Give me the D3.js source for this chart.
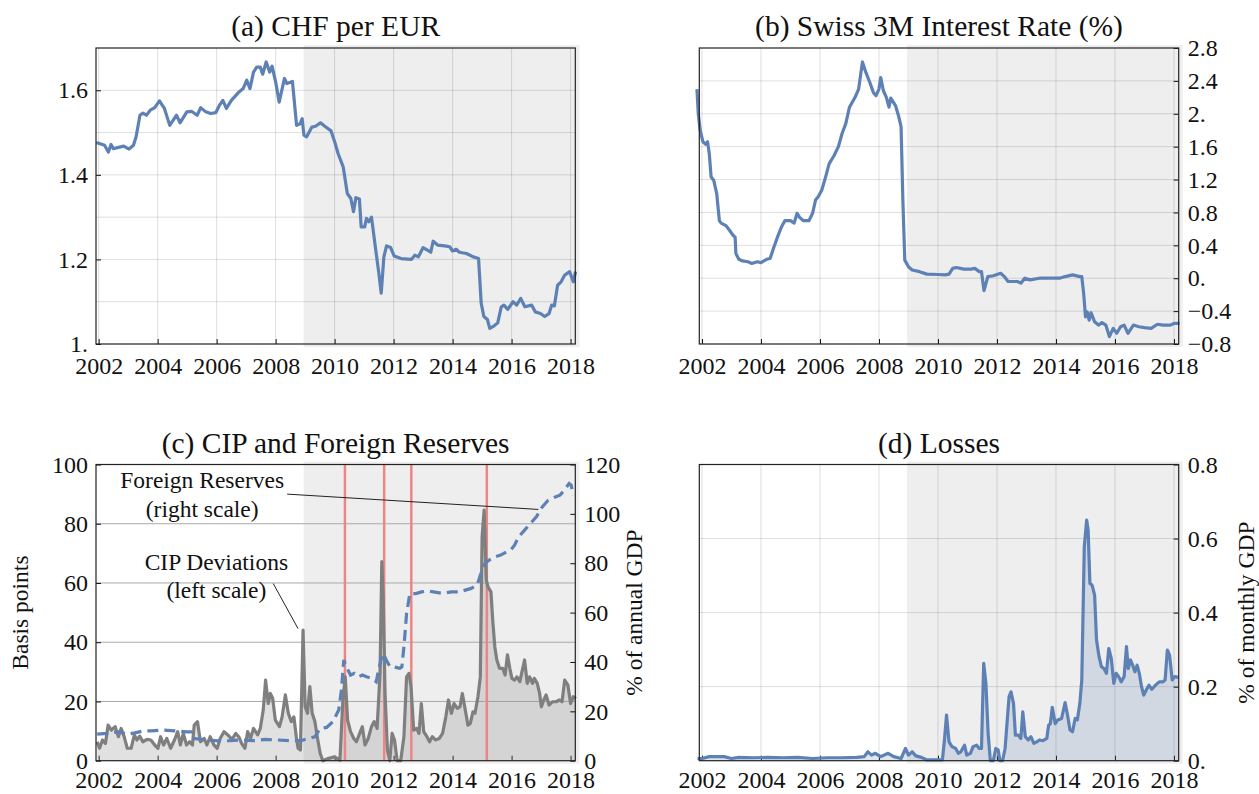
<!doctype html>
<html lang="en">
<head>
<meta charset="UTF-8">
<title>Swiss franc, rates, CIP and SNB losses</title>
<style>
    body { margin: 0; background: #fff; }
    svg { display: block; }
    text { font-family: "Liberation Serif", "DejaVu Serif", serif; }
    .ticks text { fill: #111; }
    .ticks line { stroke: #111; }
    .title { font-size: 29.5px; fill: #111; text-anchor: middle; }
    .note { font-size: 23.5px; fill: #111; text-anchor: middle; }
    .axis-title { font-size: 23.5px; fill: #111; text-anchor: middle; }
    .frame { fill: none; stroke: #222; stroke-width: 1.2; }
</style>
</head>
<body>
<svg id="chart" width="1259" height="794" font-family="Liberation Serif, DejaVu Serif, serif"></svg>

<script src="https://d3js.org/d3.v7.min.js"></script>
<script>
    // ---- data (decimal year, value) ----
    var yearTicks = [2002, 2004, 2006, 2008, 2010, 2012, 2014, 2016, 2018];
    var shadeStart = 2008.95;
    var interventions = [2010.35, 2011.68, 2012.6, 2015.16];

    var chfEur = [[2001.92,1.476],[2002.0,1.475],[2002.2,1.47],[2002.33,1.454],[2002.42,1.472],[2002.5,1.462],[2002.85,1.468],
        [2003.03,1.461],[2003.18,1.47],[2003.27,1.49],[2003.4,1.541],[2003.5,1.546],[2003.62,1.541],[2003.75,1.553],[2003.9,1.559],
        [2004.06,1.575],[2004.23,1.557],[2004.41,1.517],[2004.64,1.541],[2004.76,1.523],[2004.99,1.549],[2005.16,1.55],[2005.34,1.541],
        [2005.46,1.559],[2005.63,1.549],[2005.8,1.545],[2005.97,1.547],[2006.1,1.565],[2006.21,1.576],[2006.33,1.557],[2006.5,1.576],
        [2006.73,1.594],[2006.9,1.604],[2007.02,1.624],[2007.13,1.604],[2007.25,1.643],[2007.36,1.655],[2007.48,1.655],[2007.56,1.638],
        [2007.68,1.667],[2007.8,1.643],[2007.88,1.657],[2008.0,1.62],[2008.12,1.572],[2008.3,1.628],[2008.38,1.616],[2008.57,1.621],
        [2008.71,1.517],[2008.83,1.521],[2008.9,1.533],[2008.96,1.494],[2009.05,1.49],[2009.23,1.513],[2009.35,1.515],[2009.52,1.523],
        [2009.7,1.513],[2009.88,1.504],[2010.02,1.474],[2010.12,1.45],[2010.29,1.419],[2010.43,1.356],[2010.55,1.344],[2010.64,1.313],
        [2010.72,1.346],[2010.84,1.343],[2010.9,1.277],[2011.02,1.277],[2011.08,1.297],[2011.16,1.289],[2011.25,1.3],[2011.38,1.23],
        [2011.5,1.167],[2011.58,1.12],[2011.67,1.206],[2011.76,1.232],[2011.9,1.228],[2012.02,1.208],[2012.25,1.202],[2012.6,1.2],
        [2012.72,1.21],[2012.84,1.206],[2013.0,1.228],[2013.26,1.217],[2013.34,1.243],[2013.49,1.234],[2013.73,1.232],[2013.9,1.23],
        [2014.0,1.22],[2014.12,1.224],[2014.23,1.217],[2014.47,1.214],[2014.7,1.206],[2014.88,1.202],[2014.97,1.096],[2015.06,1.065],
        [2015.18,1.058],[2015.26,1.037],[2015.41,1.043],[2015.53,1.05],[2015.65,1.088],[2015.74,1.092],[2015.87,1.082],[2016.05,1.1],
        [2016.17,1.092],[2016.31,1.108],[2016.45,1.088],[2016.68,1.092],[2016.8,1.076],[2016.98,1.072],[2017.12,1.065],[2017.27,1.072],
        [2017.36,1.092],[2017.45,1.09],[2017.56,1.139],[2017.68,1.147],[2017.8,1.163],[2017.97,1.171],[2018.09,1.147],[2018.17,1.171]];

    var swiss3m = [[2001.83,2.3],[2001.875,2.0],[2001.94,1.8],[2002.03,1.66],[2002.125,1.63],[2002.19,1.66],[2002.25,1.51],[2002.31,1.23],
        [2002.4,1.19],[2002.5,1.03],[2002.59,0.7],[2002.65,0.67],[2002.81,0.64],[2002.94,0.58],[2003.06,0.52],[2003.125,0.5],[2003.15,0.3],
        [2003.25,0.23],[2003.375,0.21],[2003.56,0.2],[2003.69,0.18],[2003.875,0.2],[2004.0,0.19],[2004.19,0.23],[2004.31,0.24],[2004.44,0.38],
        [2004.56,0.5],[2004.69,0.62],[2004.81,0.7],[2005.0,0.7],[2005.125,0.67],[2005.225,0.79],[2005.31,0.74],[2005.44,0.7],[2005.625,0.7],
        [2005.75,0.79],[2005.85,0.95],[2005.94,0.99],[2006.06,1.07],[2006.19,1.23],[2006.31,1.39],[2006.475,1.49],[2006.625,1.6],[2006.75,1.76],
        [2006.875,1.88],[2007.0,2.08],[2007.19,2.2],[2007.31,2.3],[2007.44,2.63],[2007.56,2.5],[2007.69,2.38],[2007.81,2.26],[2007.9,2.22],
        [2008.0,2.3],[2008.06,2.44],[2008.15,2.28],[2008.25,2.2],[2008.34,2.08],[2008.4,2.19],[2008.56,2.1],[2008.66,1.98],[2008.75,1.84],
        [2008.81,0.95],[2008.875,0.22],[2009.0,0.14],[2009.125,0.1],[2009.375,0.08],[2009.625,0.05],[2010.0,0.045],[2010.25,0.04],
        [2010.375,0.05],[2010.5,0.12],[2010.625,0.13],[2010.875,0.11],[2011.125,0.11],[2011.25,0.12],[2011.4,0.08],[2011.475,0.08],
        [2011.56,-0.15],[2011.69,0.02],[2011.875,0.03],[2012.125,0.06],[2012.25,0.02],[2012.375,-0.04],[2012.56,-0.04],[2012.69,-0.04],
        [2012.81,-0.06],[2012.94,0.0],[2013.125,-0.02],[2013.44,0.0],[2013.75,0.0],[2014.125,0.0],[2014.31,0.02],[2014.56,0.04],
        [2014.81,0.02],[2014.875,0.02],[2014.94,-0.19],[2015.0,-0.47],[2015.06,-0.41],[2015.125,-0.51],[2015.19,-0.42],[2015.31,-0.53],
        [2015.44,-0.57],[2015.56,-0.54],[2015.69,-0.57],[2015.81,-0.71],[2015.94,-0.61],[2016.06,-0.67],[2016.19,-0.59],[2016.31,-0.57],
        [2016.44,-0.67],[2016.625,-0.57],[2016.81,-0.59],[2017.0,-0.6],[2017.225,-0.61],[2017.44,-0.56],[2017.625,-0.57],[2017.875,-0.57],
        [2018.0,-0.55],[2018.19,-0.55]];

    var cipDeviation = [[2001.95,6.4],[2002.03,4.2],[2002.13,7],[2002.23,5.8],[2002.32,12],[2002.43,10.3],[2002.56,11.5],[2002.67,8.1],
        [2002.76,10.9],[2002.86,8.3],[2002.97,4.2],[2003.1,4.2],[2003.21,8.7],[2003.3,7],[2003.39,8.3],[2003.5,6.4],[2003.64,7.2],
        [2003.77,7],[2003.9,5.3],[2004.01,4.2],[2004.1,8.1],[2004.2,5.3],[2004.31,7.5],[2004.44,4.2],[2004.57,7],[2004.68,9.8],
        [2004.77,5.3],[2004.87,9.2],[2004.98,5.3],[2005.08,6.4],[2005.18,5.3],[2005.24,12],[2005.35,13.2],[2005.45,6.4],[2005.58,7.5],
        [2005.67,5.3],[2005.78,8.1],[2005.91,5.3],[2006.02,4.2],[2006.12,7.5],[2006.25,9.8],[2006.38,8.7],[2006.52,7.2],[2006.65,9.2],
        [2006.75,8.1],[2006.85,5.8],[2006.96,4.2],[2007.05,9.8],[2007.15,7.5],[2007.25,10.9],[2007.39,8.7],[2007.48,10.9],[2007.58,17.1],
        [2007.66,27.2],[2007.75,19.3],[2007.82,22.7],[2007.9,21],[2007.99,13.7],[2008.13,11.5],[2008.22,14.8],[2008.33,22.2],[2008.43,16],
        [2008.53,13.2],[2008.62,14.8],[2008.7,8.1],[2008.76,4.2],[2008.84,3.6],[2008.93,44.1],[2009.0,18.2],[2009.08,16],[2009.16,25],
        [2009.24,16],[2009.33,13.2],[2009.43,7],[2009.51,2.5],[2009.6,0],[2009.8,0.8],[2010.0,1.3],[2010.18,0.2],[2010.28,20.5],
        [2010.36,28.3],[2010.44,13.7],[2010.54,9.8],[2010.65,7.5],[2010.74,6.4],[2010.85,9.2],[2010.94,11.5],[2011.03,5.3],[2011.14,7.5],
        [2011.25,11.5],[2011.34,13.2],[2011.44,10.9],[2011.54,29.5],[2011.6,67.2],[2011.65,54.2],[2011.71,22.7],[2011.79,3.6],[2011.87,0],
        [2011.95,9.2],[2012.03,7],[2012.12,0],[2012.24,0],[2012.35,8.1],[2012.44,28.3],[2012.52,29.5],[2012.59,25],[2012.68,10.3],
        [2012.78,10.9],[2012.86,9.2],[2012.94,19.3],[2013.02,9.8],[2013.13,8.1],[2013.22,6.4],[2013.31,8.1],[2013.42,7],[2013.55,7.5],
        [2013.66,9.2],[2013.77,14.8],[2013.86,20.5],[2013.96,16],[2014.05,19.3],[2014.16,17.7],[2014.25,18.2],[2014.33,22.7],[2014.43,17.1],
        [2014.52,12],[2014.6,12.6],[2014.69,16.5],[2014.76,16],[2014.86,21.6],[2014.94,28.3],[2015.0,75.6],[2015.07,84.6],[2015.14,61],
        [2015.2,58.7],[2015.3,57],[2015.36,47.5],[2015.43,38.5],[2015.5,34],[2015.59,31.2],[2015.7,31.2],[2015.78,28.9],[2015.86,35.7],
        [2015.94,31.2],[2016.01,27.8],[2016.1,27.2],[2016.18,28.3],[2016.28,26.7],[2016.34,29.5],[2016.44,34],[2016.53,26.1],[2016.61,28.3],
        [2016.71,26.1],[2016.77,27.8],[2016.87,26.1],[2016.95,22.7],[2017.01,18.2],[2017.09,20.5],[2017.17,22.2],[2017.27,18.8],
        [2017.38,19.9],[2017.51,19.9],[2017.62,20.5],[2017.71,19.9],[2017.8,27.2],[2017.91,25.5],[2018.0,19.3],[2018.09,21.6],[2018.18,21]];

    var reserves = [[2001.95,10.8],[2002.29,11.1],[2002.7,11.7],[2002.97,10.7],[2003.23,11.3],[2003.5,12],[2003.77,12.1],[2004.17,12.4],
        [2004.57,12.1],[2004.98,11.7],[2005.18,11.7],[2005.24,9],[2005.65,8.4],[2006.05,8],[2006.45,8.1],[2006.85,8.4],[2007.25,8.1],
        [2007.66,8.6],[2008.06,8.4],[2008.46,8.1],[2008.86,8.1],[2009.06,8.8],[2009.33,9.7],[2009.51,13.1],[2009.73,13.5],[2009.94,15.8],
        [2010.14,20.5],[2010.23,28.6],[2010.31,40.8],[2010.4,38],[2010.54,34.7],[2010.67,35.4],[2010.81,34],[2010.94,34.7],[2011.08,34],
        [2011.28,33.3],[2011.41,32],[2011.48,36],[2011.57,40.8],[2011.65,43.5],[2011.75,40.8],[2011.88,38],[2012.01,38],[2012.21,37.4],
        [2012.28,38],[2012.35,46.2],[2012.44,59.6],[2012.55,67.7],[2012.75,67.7],[2012.95,68.4],[2013.15,68.8],[2013.35,68.4],[2013.55,68],
        [2013.76,68],[2013.96,68.4],[2014.23,68.4],[2014.43,69.1],[2014.63,69.8],[2014.83,71.1],[2014.96,75.8],[2015.1,79.9],[2015.23,81.2],
        [2015.43,82.6],[2015.63,83.3],[2015.83,84.6],[2015.97,85.3],[2016.1,87.3],[2016.24,90.7],[2016.44,93.4],[2016.64,96.1],
        [2016.84,98.8],[2017.04,102.8],[2017.24,105.5],[2017.44,106.6],[2017.64,107.6],[2017.77,109.3],[2017.95,112.3],[2018.02,111.6],
        [2018.09,107.6]];

    var losses = [[2001.85,0.006],[2002.0,0.006],[2002.25,0.011],[2002.5,0.011],[2002.75,0.011],[2003.0,0.006],[2003.25,0.009],
        [2003.75,0.008],[2004.25,0.009],[2004.75,0.008],[2005.25,0.009],[2005.75,0.006],[2006.25,0.008],[2006.75,0.008],[2007.25,0.009],
        [2007.5,0.011],[2007.625,0.024],[2007.75,0.015],[2007.875,0.02],[2008.06,0.011],[2008.31,0.02],[2008.5,0.011],[2008.75,0.006],
        [2008.9,0.033],[2009.0,0.015],[2009.125,0.024],[2009.25,0.013],[2009.44,0.009],[2009.625,0.002],[2009.875,0.002],[2010.15,0.002],
        [2010.22,0.056],[2010.29,0.123],[2010.375,0.051],[2010.475,0.038],[2010.6,0.033],[2010.69,0.02],[2010.775,0.024],[2010.9,0.042],
        [2010.975,0.015],[2011.1,0.02],[2011.19,0.038],[2011.31,0.042],[2011.4,0.033],[2011.475,0.033],[2011.55,0.263],[2011.625,0.209],
        [2011.7,0.074],[2011.775,0],[2011.875,0],[2011.96,0.033],[2012.04,0.029],[2012.1,0],[2012.19,0],[2012.275,0.033],[2012.35,0.11],
        [2012.41,0.173],[2012.475,0.186],[2012.56,0.155],[2012.625,0.069],[2012.725,0.069],[2012.81,0.06],[2012.875,0.132],[2012.96,0.065],
        [2013.06,0.056],[2013.15,0.065],[2013.25,0.047],[2013.35,0.051],[2013.44,0.056],[2013.56,0.054],[2013.69,0.06],[2013.75,0.096],
        [2013.81,0.1],[2013.875,0.144],[2013.975,0.1],[2014.06,0.11],[2014.19,0.114],[2014.31,0.157],[2014.4,0.119],[2014.475,0.083],
        [2014.56,0.078],[2014.65,0.114],[2014.725,0.11],[2014.81,0.155],[2014.875,0.218],[2014.96,0.578],[2015.04,0.65],[2015.09,0.623],
        [2015.15,0.479],[2015.225,0.474],[2015.31,0.447],[2015.375,0.326],[2015.46,0.281],[2015.54,0.254],[2015.625,0.249],[2015.71,0.236],
        [2015.79,0.303],[2015.875,0.276],[2015.96,0.209],[2016.04,0.236],[2016.125,0.227],[2016.21,0.213],[2016.31,0.227],[2016.39,0.308],
        [2016.45,0.249],[2016.525,0.272],[2016.6,0.258],[2016.675,0.24],[2016.75,0.258],[2016.825,0.236],[2016.9,0.2],[2016.975,0.177],
        [2017.06,0.191],[2017.15,0.204],[2017.25,0.193],[2017.375,0.204],[2017.5,0.213],[2017.625,0.213],[2017.7,0.218],[2017.775,0.299],
        [2017.85,0.285],[2017.94,0.218],[2018.025,0.227],[2018.15,0.225]];

    // ---- layout ----
    var xDomain = [2001.91, 2018.16];
    var boxes = {
        a: {left: 96, right: 575.3, top: 48, bottom: 344},
        b: {left: 699.3, right: 1178.7, top: 48, bottom: 344},
        c: {left: 96, right: 575.3, top: 464.5, bottom: 760.7},
        d: {left: 699.3, right: 1178.7, top: 464.5, bottom: 760.7}
    };
    var blue = "#5e81b5";
    var serif = "Liberation Serif, DejaVu Serif, serif";
    var tickFont = 24;
    var svg = d3.select("#chart");

    // Mathematica-like labels: "1." "0." "−0.4"
    function mmaFmt(v) {
        return d3.format(".1f")(v).replace(/\.0$/, ".");
    }

    function styleAxis(sel) {
        sel.attr("class", "ticks").attr("font-family", serif).attr("font-size", tickFont);
        sel.select(".domain").remove();
    }

    function makePanel(box, title, labelPad) {
        var g = svg.append("g");
        var x = d3.scaleLinear().domain(xDomain).range([box.left, box.right]);

        // shaded post-2009 region (sticks out of the frame a bit, like the original)
        g.append("rect")
            .attr("x", x(shadeStart))
            .attr("y", box.top - 3)
            .attr("width", box.right + 4 - x(shadeStart))
            .attr("height", box.bottom - box.top + 6)
            .attr("fill", "#eeeeee");

        g.append("text").attr("class", "title")
            .attr("font-family", serif)
            .attr("x", (box.left + box.right) / 2)
            .attr("y", box.top - 12)
            .text(title);

        g.append("g")
            .attr("transform", "translate(0," + box.bottom + ")")
            .call(d3.axisBottom(x).tickValues(yearTicks).tickFormat(d3.format("d")).tickSize(-5).tickPadding(labelPad))
            .call(styleAxis);

        return {g: g, x: x};
    }

    function vGrid(p, box, color) {
        p.g.append("g").selectAll("line").data(yearTicks).enter().append("line")
            .attr("x1", function(d) { return p.x(d); })
            .attr("x2", function(d) { return p.x(d); })
            .attr("y1", box.top).attr("y2", box.bottom)
            .attr("stroke", color);
    }

    function hGrid(p, box, y, values, color) {
        p.g.append("g").selectAll("line").data(values).enter().append("line")
            .attr("x1", box.left).attr("x2", box.right)
            .attr("y1", function(d) { return y(d); })
            .attr("y2", function(d) { return y(d); })
            .attr("stroke", color);
    }

    function frame(p, box) {
        p.g.append("rect").attr("class", "frame")
            .attr("x", box.left).attr("y", box.top)
            .attr("width", box.right - box.left).attr("height", box.bottom - box.top);
    }

    var gridColor = "rgba(0,0,0,0.13)";

    // (a) CHF per EUR
    var pa = makePanel(boxes.a, "(a) CHF per EUR", 13);
    var ya = d3.scaleLinear().domain([1.0, 1.7]).range([boxes.a.bottom, boxes.a.top]);
    vGrid(pa, boxes.a, gridColor);
    hGrid(pa, boxes.a, ya, [1.1, 1.2, 1.3, 1.4, 1.5, 1.6], gridColor);
    pa.g.append("path").datum(chfEur)
        .attr("fill", "none").attr("stroke", blue).attr("stroke-width", 3.2).attr("stroke-linejoin", "round")
        .attr("d", d3.line().x(function(d) { return pa.x(d[0]); }).y(function(d) { return ya(d[1]); }));
    pa.g.append("g").attr("transform", "translate(" + boxes.a.left + ",0)")
        .call(d3.axisLeft(ya).tickValues([1.0, 1.2, 1.4, 1.6]).tickFormat(mmaFmt).tickSize(-5).tickPadding(8))
        .call(styleAxis);
    frame(pa, boxes.a);

    // (b) Swiss 3M rate
    var pb = makePanel(boxes.b, "(b) Swiss 3M Interest Rate (%)", 13);
    var yb = d3.scaleLinear().domain([-0.8, 2.8]).range([boxes.b.bottom, boxes.b.top]);
    var rateTicks = d3.range(-0.8, 2.81, 0.4).map(function(v) { return Math.round(v * 10) / 10; });
    vGrid(pb, boxes.b, gridColor);
    hGrid(pb, boxes.b, yb, rateTicks.slice(1, -1), gridColor);
    pb.g.append("path").datum(swiss3m)
        .attr("fill", "none").attr("stroke", blue).attr("stroke-width", 3.2).attr("stroke-linejoin", "round")
        .attr("d", d3.line().x(function(d) { return pb.x(d[0]); }).y(function(d) { return yb(d[1]); }));
    pb.g.append("g").attr("transform", "translate(" + boxes.b.right + ",0)")
        .call(d3.axisRight(yb).tickValues(rateTicks).tickFormat(mmaFmt).tickSize(-5).tickPadding(9))
        .call(styleAxis);
    frame(pb, boxes.b);

    // (c) CIP and foreign reserves
    var pc = makePanel(boxes.c, "(c) CIP and Foreign Reserves", 10);
    var ycL = d3.scaleLinear().domain([0, 100]).range([boxes.c.bottom, boxes.c.top]);
    var ycR = d3.scaleLinear().domain([0, 120]).range([boxes.c.bottom, boxes.c.top]);
    hGrid(pc, boxes.c, ycL, [20, 40, 60, 80], "#a9a9a9");
    pc.g.append("path").datum(cipDeviation)
        .attr("fill", "#888").attr("fill-opacity", 0.25)
        .attr("d", d3.area().x(function(d) { return pc.x(d[0]); }).y0(ycL(0)).y1(function(d) { return ycL(d[1]); }));
    pc.g.append("g").selectAll("line").data(interventions).enter().append("line")
        .attr("x1", function(d) { return pc.x(d); }).attr("x2", function(d) { return pc.x(d); })
        .attr("y1", boxes.c.top).attr("y2", boxes.c.bottom)
        .attr("stroke", "#ee8585").attr("stroke-width", 2.5);
    pc.g.append("path").datum(cipDeviation)
        .attr("fill", "none").attr("stroke", "#7f7f7f").attr("stroke-width", 3.2).attr("stroke-linejoin", "round")
        .attr("d", d3.line().x(function(d) { return pc.x(d[0]); }).y(function(d) { return ycL(d[1]); }));
    pc.g.append("path").datum(reserves)
        .attr("fill", "none").attr("stroke", blue).attr("stroke-width", 3.2).attr("stroke-dasharray", "11,6")
        .attr("d", d3.line().x(function(d) { return pc.x(d[0]); }).y(function(d) { return ycR(d[1]); }));
    pc.g.append("g").attr("transform", "translate(" + boxes.c.left + ",0)")
        .call(d3.axisLeft(ycL).tickValues([0, 20, 40, 60, 80, 100]).tickSize(-5).tickPadding(8))
        .call(styleAxis);
    pc.g.append("g").attr("transform", "translate(" + boxes.c.right + ",0)")
        .call(d3.axisRight(ycR).tickValues([0, 20, 40, 60, 80, 100, 120]).tickSize(-5).tickPadding(9))
        .call(styleAxis);
    frame(pc, boxes.c);

    // callouts (positioned in data coordinates)
    pc.g.append("line").attr("stroke", "#222").attr("stroke-width", 1)
        .attr("x1", pc.x(2008.39)).attr("y1", ycR(108))
        .attr("x2", pc.x(2016.91)).attr("y2", ycR(101.8));
    pc.g.append("line").attr("stroke", "#222").attr("stroke-width", 1)
        .attr("x1", pc.x(2007.92)).attr("y1", ycL(59.8))
        .attr("x2", pc.x(2008.76)).attr("y2", ycL(44.6));
    var n1 = pc.g.append("text").attr("class", "note").attr("font-family", serif).attr("x", pc.x(2005.51)).attr("y", ycR(110.3));
    n1.append("tspan").attr("x", pc.x(2005.51)).text("Foreign Reserves");
    n1.append("tspan").attr("x", pc.x(2005.51)).attr("dy", 28.5).text("(right scale)");
    var n2 = pc.g.append("text").attr("class", "note").attr("font-family", serif).attr("x", pc.x(2005.99)).attr("y", ycL(64.3));
    n2.append("tspan").attr("x", pc.x(2005.99)).text("CIP Deviations");
    n2.append("tspan").attr("x", pc.x(2005.99)).attr("dy", 27.3).text("(left scale)");

    svg.append("text").attr("class", "axis-title").attr("font-family", serif)
        .attr("transform", "translate(28," + (boxes.c.top + boxes.c.bottom) / 2 + ") rotate(-90)")
        .text("Basis points");
    svg.append("text").attr("class", "axis-title").attr("font-family", serif)
        .attr("transform", "translate(642," + (boxes.c.top + boxes.c.bottom) / 2 + ") rotate(-90)")
        .text("% of annual GDP");

    // (d) Losses
    var pd = makePanel(boxes.d, "(d) Losses", 10);
    var yd = d3.scaleLinear().domain([0, 0.8]).range([boxes.d.bottom, boxes.d.top]);
    vGrid(pd, boxes.d, gridColor);
    hGrid(pd, boxes.d, yd, [0.2, 0.4, 0.6], gridColor);
    pd.g.append("path").datum(losses)
        .attr("fill", blue).attr("fill-opacity", 0.2)
        .attr("d", d3.area().x(function(d) { return pd.x(d[0]); }).y0(yd(0)).y1(function(d) { return yd(d[1]); }));
    pd.g.append("path").datum(losses)
        .attr("fill", "none").attr("stroke", blue).attr("stroke-width", 3.2).attr("stroke-linejoin", "round")
        .attr("d", d3.line().x(function(d) { return pd.x(d[0]); }).y(function(d) { return yd(d[1]); }));
    pd.g.append("g").attr("transform", "translate(" + boxes.d.right + ",0)")
        .call(d3.axisRight(yd).tickValues([0, 0.2, 0.4, 0.6, 0.8]).tickFormat(mmaFmt).tickSize(-5).tickPadding(9))
        .call(styleAxis);
    frame(pd, boxes.d);

    svg.append("text").attr("class", "axis-title").attr("font-family", serif)
        .attr("transform", "translate(1254," + (boxes.d.top + boxes.d.bottom) / 2 + ") rotate(-90)")
        .text("% of monthly GDP");
</script>
</body>
</html>
